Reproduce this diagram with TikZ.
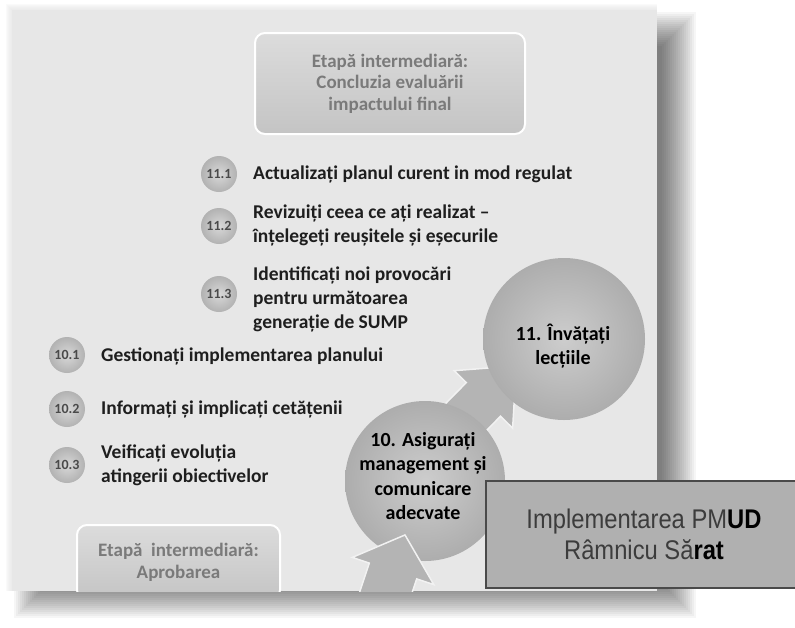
\documentclass[tikz,border=0pt]{standalone}
\usepackage{fontspec}
\setmainfont{Carlito}
\newfontfamily\pmudfont[FakeStretch=0.88]{Liberation Sans}
\definecolor{panelc}{HTML}{E7E7E7}
\definecolor{txt}{HTML}{1E1E1E}
\definecolor{bulin}{HTML}{D8D8D8}
\definecolor{bulout}{HTML}{B2B2B2}
\definecolor{bultxt}{HTML}{4A4A4A}
\definecolor{bigin}{HTML}{CDCDCD}
\definecolor{bigout}{HTML}{ADADAD}
\definecolor{boxtop}{HTML}{DCDCDC}
\definecolor{boxbot}{HTML}{C4C4C4}
\definecolor{boxtxt}{HTML}{7A7A7A}
\definecolor{arrowc}{HTML}{B4B4B4}
\definecolor{pmudfill}{HTML}{B0B0B0}
\definecolor{pmudline}{HTML}{4A4A4A}
\definecolor{pmudtxt}{HTML}{3C3C3C}
\begin{document}
\begin{tikzpicture}[x=1pt,y=-1pt,
  bodytext/.style={anchor=west,align=left,inner sep=0pt,font=\fontsize{19.5}{24}\selectfont\bfseries,text=txt},
  bullet/.style={circle,minimum size=36pt,inner sep=0pt,shading=radial,inner color=bulin,outer color=bulout,font=\fontsize{14}{14}\selectfont\bfseries,text=bultxt},
  bigcirc/.style={circle,minimum size=162pt,inner sep=0pt,shading=radial,inner color=bigin,outer color=bigout},
  circtext/.style={align=center,inner sep=0pt,font=\fontsize{20}{24.5}\selectfont\bfseries,text=black},
  stagebox/.style={rounded corners=10pt,draw=white,line width=2pt,top color=boxtop,bottom color=boxbot,align=center,font=\fontsize{19}{21.5}\selectfont\bfseries,text=boxtxt,inner sep=0pt},
  fatarrow/.style={fill=arrowc,draw=white!90!gray,line width=1.5pt,line join=miter},
  pmudbox/.style={draw=pmudline,line width=2pt,fill=pmudfill,minimum width=316pt,minimum height=107pt,align=center,inner sep=0pt,text=pmudtxt,font=\pmudfont\fontsize{27}{31}\selectfont}
]
\useasboundingbox (0,0) rectangle (795,627);
\fill[white] (0,0) rectangle (795,627);
% soft shadow of the panel
\foreach \k in {0,...,17}{
  \pgfmathsetmacro\e{18-2*\k}
  \fill[black,opacity=0.035] (32-\e,30-\e) rectangle (678+\e,600+\e);
}
% panel
\foreach \k in {1,...,6}{\fill[panelc,opacity=0.2] (12-\k,10-\k) rectangle (657,591);}
\fill[panelc] (12,10) rectangle (657,591);

\begin{scope}
\clip (12,10) rectangle (657,591);
% bottom stage box
\node[stagebox,minimum width=203pt,minimum height=75pt] (aprob) at (178.5,562.5) {Etapă\ \ intermediară:\\Aprobarea};
% arrow from circle 10 to circle 11 (behind both circles)
\begin{scope}[shift={(414,470)},rotate=45.5]
  \path[fatarrow] (40,-24) -- (99,-24) -- (99,-41) -- (146,0) -- (99,41) -- (99,24) -- (40,24) -- cycle;
\end{scope}
% circle 10
\node[bigcirc,minimum size=160pt] (c10) at (425,481) {};
% arrow coming from below into circle 10
\coordinate (inb) at (370,640);
\begin{scope}[shift={(393,571)},rotate=71.6]
  \path[fatarrow] (-90,-25) -- (0,-25) -- (0,-43) -- (38,0) -- (0,43) -- (0,25) -- (-90,25) -- cycle;
\end{scope}
% circle 11
\node[bigcirc] (c11) at (564,339) {};
\end{scope}

% top stage box
\node[stagebox,minimum width=270pt,minimum height=101pt] (concl) at (390,83.5) {Etapă intermediară:\\Concluzia evaluării\\impactului final};

% circle labels
\node[circtext] (l11) at (563,346) {11. Învățați\\lecțiile};
\node[circtext] (l10) at (423,476) {10. Asigurați\\management și\\comunicare\\adecvate};

% step 11 items
\node[bullet] (b111) at (219,174) {11.1};
\node[bodytext] (t111) at (253,174) {Actualizați planul curent in mod regulat};
\node[bullet] (b112) at (219,226) {11.2};
\node[bodytext] (t112) at (253,225) {Revizuiți ceea ce ați realizat –\\înțelegeți reușitele și eșecurile};
\node[bullet] (b113) at (219,294) {11.3};
\node[bodytext] (t113) at (253,299) {Identificați noi provocări\\pentru următoarea\\generație de SUMP};

% step 10 items
\node[bullet] (b101) at (67,355) {10.1};
\node[bodytext] (t101) at (101,356) {Gestionați implementarea planului};
\node[bullet] (b102) at (67,409) {10.2};
\node[bodytext] (t102) at (101,409) {Informați și implicați cetățenii};
\node[bullet] (b103) at (67,465) {10.3};
\node[bodytext] (t103) at (101,465) {Veificați evoluția\\atingerii obiectivelor};

% overlay title box
\node[pmudbox] (pmud) at (644,534.5) {Implementarea PM{\bfseries\color{black}UD}\\Râmnicu Să{\bfseries\color{black}rat}};
\end{tikzpicture}
\end{document}
